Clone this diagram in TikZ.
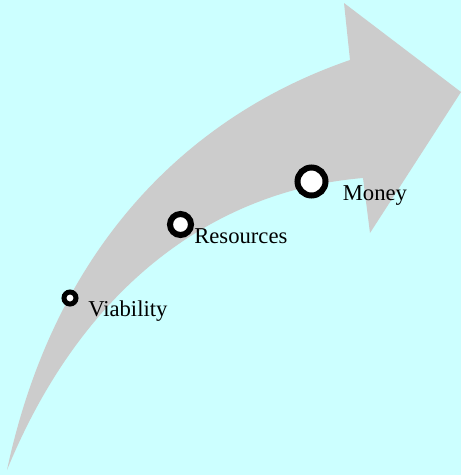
\documentclass[tikz,border=0pt]{standalone}
\usepackage{fontspec}
\setmainfont{Liberation Serif}
\usepackage{tikz}

\definecolor{bgcyan}{HTML}{CCFFFF}
\definecolor{arrowgray}{HTML}{CCCCCC}

\tikzset{
  ring/.style={circle,draw=black,fill=white,inner sep=0pt},
  tag/.style={anchor=base west,inner sep=0pt,font=\fontsize{17}{20}\selectfont}
}

\begin{document}
\begin{tikzpicture}[x=0.75pt,y=-0.75pt]

% background
\fill[bgcyan] (0,0) rectangle (461,475);

% curved arrow
\coordinate (tail) at (7,470);
\coordinate (sh1) at (350,60);
\coordinate (tip1) at (344,3);
\coordinate (head) at (461,92);
\coordinate (tip2) at (370,233);
\coordinate (sh2) at (363,178);

\fill[arrowgray] (tail) .. controls (55,245) and (190,115) .. (sh1)
  -- (tip1) -- (head) -- (tip2) -- (sh2)
  .. controls (220,190) and (85,280) .. (tail) -- cycle;

% stages
\node[ring,line width=3.75pt,minimum size=9pt] (via) at (70,298) {};
\node[ring,line width=4.5pt,minimum size=15.75pt] (res) at (180.5,224.5) {};
\node[ring,line width=4.5pt,minimum size=21pt] (mon) at (311.5,181.5) {};

\node[tag] (vialbl) at (88,316) {Viability};
\node[tag] (reslbl) at (194,243) {Resources};
\node[tag] (monlbl) at (342.5,200) {Money};

\end{tikzpicture}
\end{document}
